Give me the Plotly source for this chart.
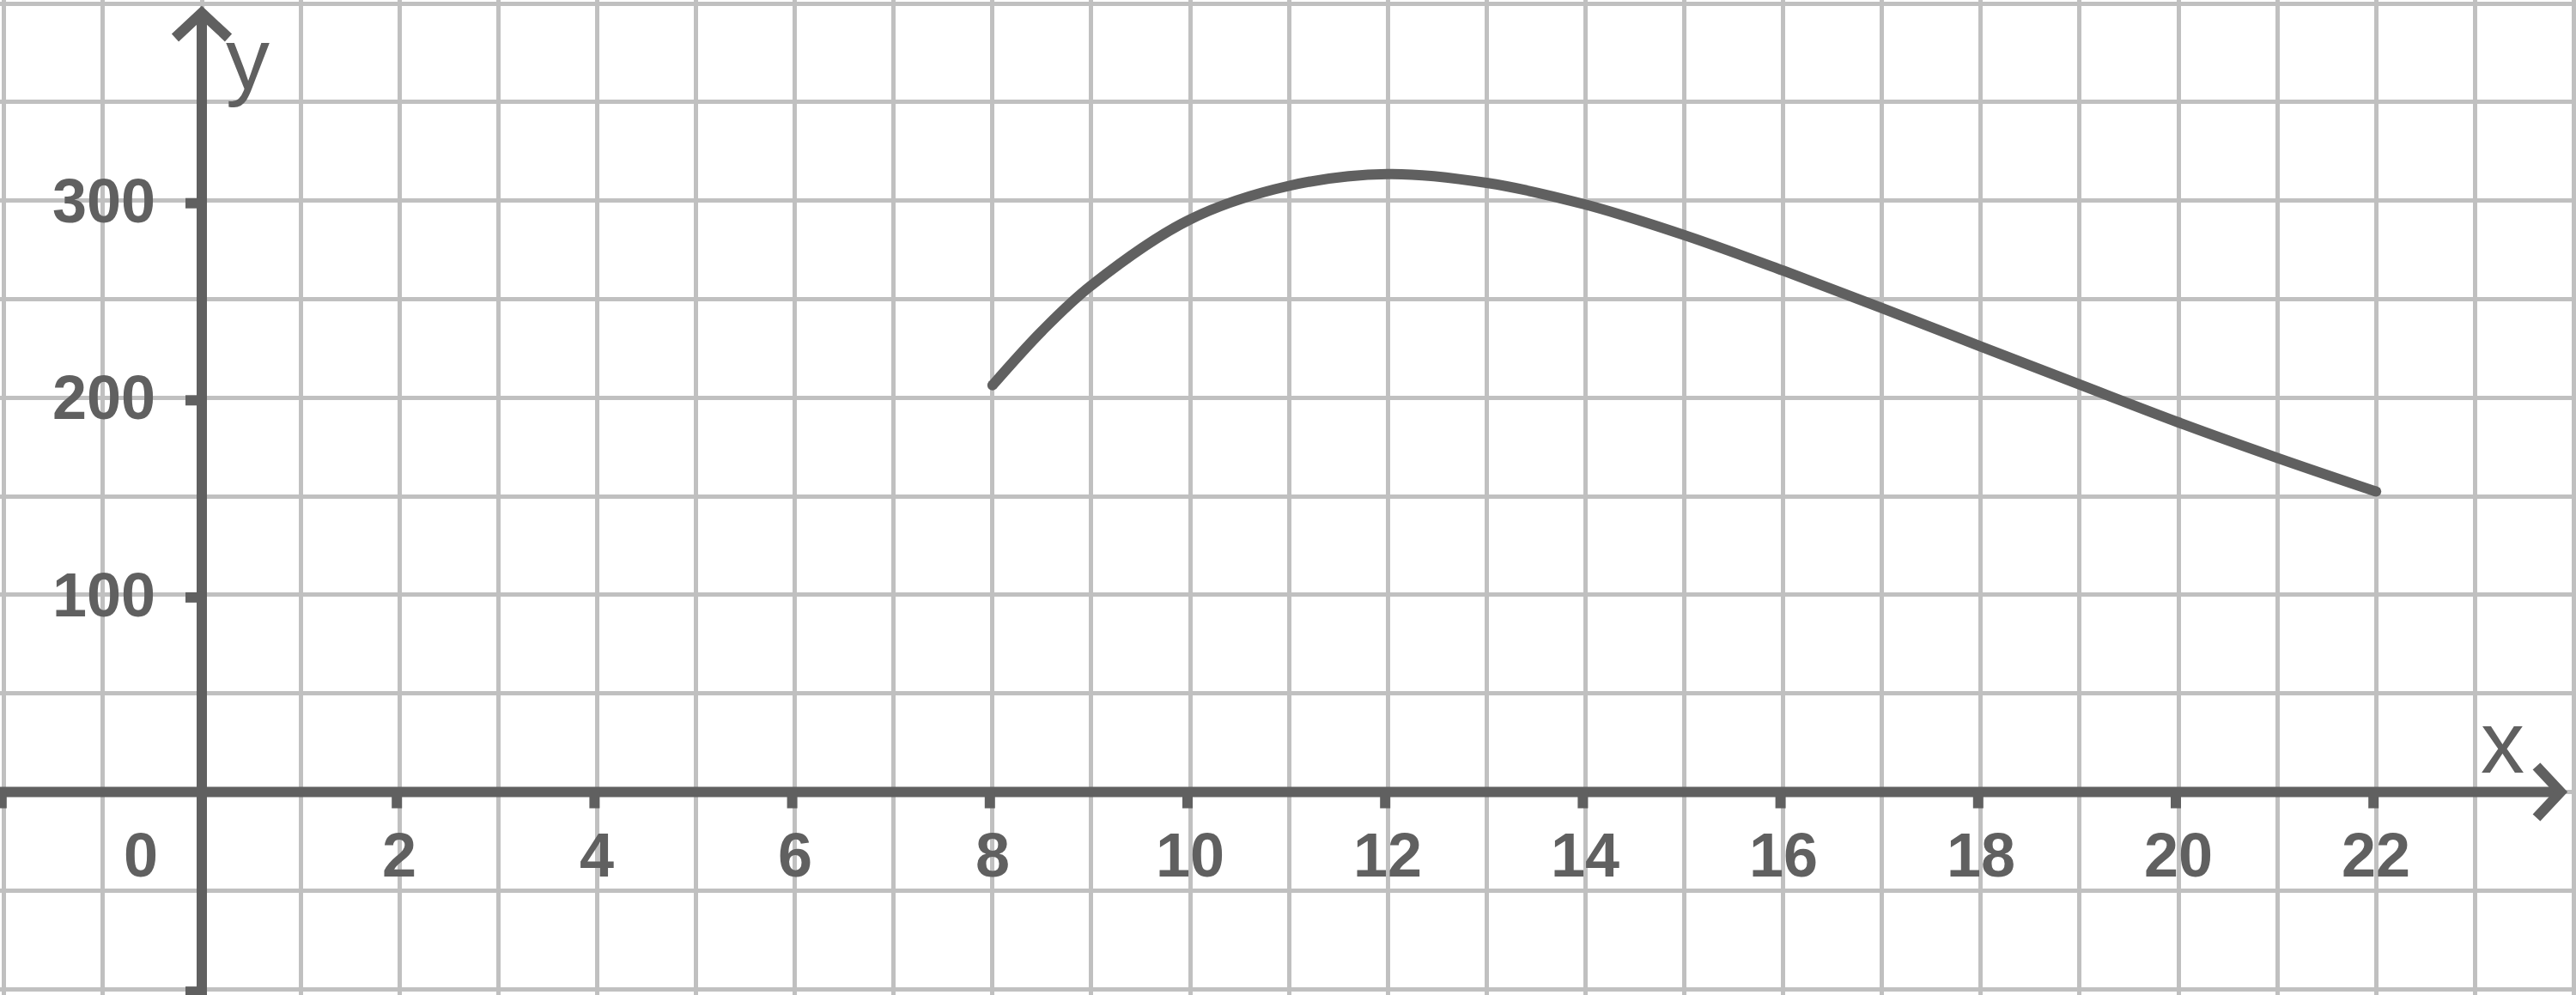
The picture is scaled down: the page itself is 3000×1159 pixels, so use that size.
import plotly.graph_objects as go

# ---- data ----
curve_x = [8, 8.5, 9, 10, 11, 12, 13, 14, 15, 16, 17, 18, 19, 20, 21, 22]
curve_y = [206.3, 233.8, 257, 290.5, 307.5, 313.5, 309, 298, 282.5, 264.5, 245.5, 226, 206.7, 187.5, 169.5, 152.4]

x_tick_vals = [-2, 2, 4, 6, 8, 10, 12, 14, 16, 18, 20, 22]
x_tick_labels = ["", "2", "4", "6", "8", "10", "12", "14", "16", "18", "20", "22"]
y_tick_vals = [-100, 100, 200, 300]
y_tick_labels = ["", "100", "200", "300"]
origin_label = "0"
x_title = "x"
y_title = "y"

# ---- geometry / style ----
W, H = 3000, 1159
X0_PX, X_UNIT = 235.0, 115.1      # pixel of x=0 and pixels per x unit
Y0_PX, Y_UNIT = 922.5, 2.296      # pixel of y=0 and pixels per y unit
XR = [-X0_PX / X_UNIT, (W - X0_PX) / X_UNIT]
YR = [-(H - Y0_PX) / Y_UNIT, Y0_PX / Y_UNIT]
px_x = lambda p: p / X_UNIT
px_y = lambda p: p / Y_UNIT

DARK = "#606060"
GRID = "#c0c0c0"
FONT = "Liberation Sans, Arial, Helvetica, sans-serif"
LINE_W = 12

fig = go.Figure()
fig.add_trace(go.Scatter(x=curve_x, y=curve_y, mode="lines",
                         line=dict(color=DARK, width=LINE_W, shape="spline", smoothing=1.0),
                         hoverinfo="skip", showlegend=False))
# round end caps
fig.add_trace(go.Scatter(x=[curve_x[0], curve_x[-1]], y=[curve_y[0], curve_y[-1]], mode="markers",
                         marker=dict(color=DARK, size=LINE_W, line=dict(width=0)),
                         hoverinfo="skip", showlegend=False))

shapes = []
AX_W = 12
# axis lines
x_tip = px_x(2982 - X0_PX)
y_tip = px_y(Y0_PX - 15)
shapes.append(dict(type="line", xref="x", yref="y", x0=XR[0], x1=x_tip, y0=0, y1=0,
                   line=dict(color=DARK, width=AX_W)))
shapes.append(dict(type="line", xref="x", yref="y", x0=0, x1=0, y0=YR[0], y1=y_tip,
                   line=dict(color=DARK, width=AX_W)))
# arrow heads
ax_dx, ax_dy = px_x(28), px_y(30)
shapes.append(dict(type="path", xref="x", yref="y",
                   path=f"M {x_tip-ax_dx},{ax_dy} L {x_tip},0 L {x_tip-ax_dx},{-ax_dy}",
                   line=dict(color=DARK, width=AX_W)))
ay_dx, ay_dy = px_x(31), px_y(29)
shapes.append(dict(type="path", xref="x", yref="y",
                   path=f"M {-ay_dx},{y_tip-ay_dy} L 0,{y_tip} L {ay_dx},{y_tip-ay_dy}",
                   line=dict(color=DARK, width=AX_W)))
# tick marks
for v in x_tick_vals:
    xv = v - px_x(3)
    shapes.append(dict(type="line", xref="x", yref="y", x0=xv, x1=xv, y0=0, y1=-px_y(19),
                       line=dict(color=DARK, width=AX_W)))
for v in y_tick_vals:
    yv = v - px_y(3)
    shapes.append(dict(type="line", xref="x", yref="y", x0=0, x1=-px_x(19), y0=yv, y1=yv,
                       line=dict(color=DARK, width=AX_W)))

annotations = []
lab_font = dict(family=FONT, size=72, color=DARK, weight="bold")
for v, t in zip(x_tick_vals, x_tick_labels):
    if t:
        annotations.append(dict(x=v, y=-32, xref="x", yref="y", text=t, showarrow=False,
                                xanchor="center", yanchor="middle", font=lab_font))
annotations.append(dict(x=-0.62, y=-32, xref="x", yref="y", text=origin_label, showarrow=False,
                        xanchor="center", yanchor="middle", font=lab_font))
for v, t in zip(y_tick_vals, y_tick_labels):
    if t:
        annotations.append(dict(x=-0.452, y=v, xref="x", yref="y", text=t, showarrow=False,
                                xanchor="right", yanchor="middle", font=lab_font))
title_font = dict(family=FONT, size=102, color=DARK)
annotations.append(dict(x=23.04, y=25.2, xref="x", yref="y", text=x_title, showarrow=False,
                        xanchor="left", yanchor="middle", font=title_font))
annotations.append(dict(x=0.225, y=371.8, xref="x", yref="y", text=y_title, showarrow=False,
                        xanchor="left", yanchor="middle", font=title_font))

fig.update_layout(
    width=W, height=H, margin=dict(l=0, r=0, t=0, b=0, pad=0),
    paper_bgcolor="white", plot_bgcolor="white", showlegend=False, hovermode=False,
    shapes=shapes, annotations=annotations,
    xaxis=dict(range=XR, showgrid=True, gridcolor=GRID, gridwidth=5, tick0=0, dtick=1,
               showticklabels=False, zeroline=False, showline=False, ticks="", fixedrange=True),
    yaxis=dict(range=YR, showgrid=True, gridcolor=GRID, gridwidth=5, tick0=0, dtick=50,
               showticklabels=False, zeroline=False, showline=False, ticks="", fixedrange=True),
)

fig.write_html("out.html", config={"displayModeBar": False},
               post_script="document.body.style.margin='0';document.body.style.overflow='hidden';")
